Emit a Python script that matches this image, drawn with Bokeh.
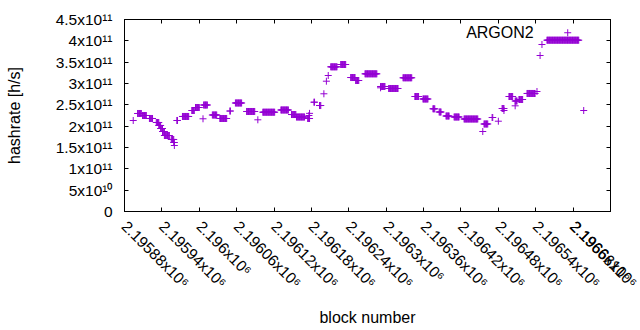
import math
from bokeh.plotting import figure
from bokeh.models import FixedTicker, LinearAxis, Range1d, Label, ColumnDataSource
from bokeh.embed import file_html
from bokeh.resources import INLINE

# ---- data ----
# runs of consecutive blocks sharing one hashrate value
run_start = [2195901, 2195909, 2195920, 2195931, 2195935, 2195938, 2195941, 2195944,
             2195955, 2195959, 2195964, 2195973, 2195988, 2195994, 2196007, 2196021,
             2196033, 2196049, 2196058, 2196076, 2196102, 2196131, 2196148, 2196156,
             2196174, 2196184, 2196193, 2196211, 2196227, 2196243, 2196251, 2196266,
             2196291, 2196304, 2196327, 2196346, 2196359, 2196375, 2196385, 2196396,
             2196409, 2196425, 2196457, 2196470, 2196486, 2196497, 2196507, 2196513,
             2196526, 2196542, 2196550, 2196558]
run_end = [2195907, 2195915, 2195925, 2195935, 2195938, 2195941, 2195944, 2195952,
           2195959, 2195960, 2195965, 2195983, 2195992, 2196000, 2196013, 2196028,
           2196044, 2196050, 2196068, 2196089, 2196121, 2196143, 2196155, 2196169,
           2196177, 2196185, 2196195, 2196221, 2196235, 2196250, 2196256, 2196285,
           2196298, 2196319, 2196341, 2196352, 2196367, 2196378, 2196388, 2196401,
           2196417, 2196447, 2196463, 2196471, 2196489, 2196503, 2196510, 2196519,
           2196539, 2196542, 2196550, 2196609]
run_value = [2.297e11, 2.25e11, 2.18e11, 2.086e11, 2.016e11, 1.945e11, 1.875e11, 1.781e11,
             1.688e11, 1.617e11, 2.133e11, 2.227e11, 2.367e11, 2.4375e11, 2.496e11, 2.262e11,
             2.18e11, 2.355e11, 2.543e11, 2.344e11, 2.327e11, 2.379e11, 2.273e11, 2.215e11,
             2.18e11, 2.562e11, 2.484e11, 3.391e11, 3.445e11, 3.14e11, 3.07e11, 3.227e11,
             2.93e11, 2.883e11, 3.134e11, 2.695e11, 2.637e11, 2.407e11, 2.332e11, 2.238e11,
             2.215e11, 2.168e11, 2.051e11, 2.203e11, 2.414e11, 2.695e11, 2.59e11, 2.625e11,
             2.766e11, 2.8125e11, 3.914e11, 4.015e11]
# isolated points
single_block = [2195894, 2195960, 2196006, 2196094, 2196176, 2196177, 2196200, 2196204,
                2196207, 2196291, 2196455, 2196480, 2196489, 2196507, 2196547, 2196617]
single_value = [2.133e11, 1.547e11, 2.173e11, 2.149e11, 2.25e11, 2.3e11, 2.759e11, 3.054e11,
                3.1875e11, 2.899e11, 1.875e11, 2.116e11, 2.367e11, 2.477e11, 3.656e11, 2.367e11]

series_name = "ARGON2"

x_ticks = [2195880, 2195940, 2196000, 2196060, 2196120, 2196180, 2196240,
           2196300, 2196360, 2196420, 2196480, 2196540, 2196600, 2196660]
x_tick_labels = ["2.19588x10⁶", "2.19594x10⁶", "2.196x10⁶", "2.19606x10⁶", "2.19612x10⁶",
                 "2.19618x10⁶", "2.19624x10⁶", "2.1963x10⁶", "2.19636x10⁶", "2.19642x10⁶",
                 "2.19648x10⁶", "2.19654x10⁶", "2.1966x10⁶", "2.19666x10⁶"]
y_ticks = [0, 50000000000, 100000000000, 150000000000, 200000000000, 250000000000,
           300000000000, 350000000000, 400000000000, 450000000000]
y_tick_labels = ["0", "5x10¹⁰", "1x10¹¹", "1.5x10¹¹", "2x10¹¹", "2.5x10¹¹",
                 "3x10¹¹", "3.5x10¹¹", "4x10¹¹", "4.5x10¹¹"]

# ---- build point table ----
xs, ys = [], []
for s, e, v in zip(run_start, run_end, run_value):
    for b in range(s, e + 1):
        xs.append(b)
        ys.append(v)
xs += single_block
ys += single_value
src = ColumnDataSource(dict(block=xs, hashrate=ys))

FONT = "Liberation Sans"
COLOR = "#9400D3"
TICK_FS = "15.5px"
LABEL_FS = "16px"

p = figure(width=640, height=330, output_backend="svg", toolbar_location=None,
           x_range=Range1d(x_ticks[0], x_ticks[-1]), y_range=Range1d(y_ticks[0], y_ticks[-1]),
           min_border_left=124, min_border_right=30, min_border_top=19, min_border_bottom=119)
p.background_fill_color = "white"
p.border_fill_color = "white"
p.outline_line_color = "black"
p.outline_line_width = 1
p.xgrid.visible = False
p.ygrid.visible = False

p.scatter("block", "hashrate", source=src, marker="cross", size=7,
          line_color=COLOR, line_width=1)

def style_axis(ax, show_labels=True):
    ax.axis_line_color = "black"
    ax.major_tick_line_color = "black"
    ax.major_tick_in = 4
    ax.major_tick_out = 0
    ax.minor_tick_line_color = None
    ax.major_label_text_font = FONT
    if show_labels:
        ax.major_label_text_color = "black"
        ax.major_label_text_font_size = TICK_FS
    else:
        ax.major_label_text_color = None
        ax.major_label_text_font_size = "0px"
        ax.major_label_standoff = 0
    ax.axis_label_text_font = FONT
    ax.axis_label_text_font_size = LABEL_FS
    ax.axis_label_text_font_style = "normal"
    ax.axis_label_text_color = "black"

xax = p.xaxis[0]
yax = p.yaxis[0]
xax.ticker = FixedTicker(ticks=x_ticks)
yax.ticker = FixedTicker(ticks=y_ticks)
xax.major_label_overrides = {t: l for t, l in zip(x_ticks, x_tick_labels)}
yax.major_label_overrides = {t: l for t, l in zip(y_ticks, y_tick_labels)}
style_axis(xax)
style_axis(yax)
xax.major_label_orientation = -math.pi / 4
xax.major_label_standoff = 12
yax.major_label_standoff = 12
xax.axis_label = "block number"
yax.axis_label = "hashrate [h/s]"
xax.axis_label_standoff = 9
yax.axis_label_standoff = 30

# mirrored ticks on the right and top
rax = LinearAxis(ticker=FixedTicker(ticks=y_ticks))
style_axis(rax, show_labels=False)
p.add_layout(rax, "right")
tax = LinearAxis(ticker=FixedTicker(ticks=x_ticks))
style_axis(tax, show_labels=False)
p.add_layout(tax, "above")

# key (text on the left, sample on the right, gnuplot style)
p.extra_x_ranges = {"key": Range1d(0, 1)}
p.extra_y_ranges = {"key": Range1d(0, 1)}
p.add_layout(Label(x=0.842, y=0.931, x_range_name="key", y_range_name="key",
                   text=series_name, text_align="right", text_baseline="middle",
                   text_font=FONT, text_font_size=LABEL_FS, text_color="black"))
p.scatter(x=[0.912], y=[0.931], x_range_name="key", y_range_name="key",
          marker="cross", size=7, line_color=COLOR, line_width=1)

open("out.html", "w").write(file_html(p, INLINE))
